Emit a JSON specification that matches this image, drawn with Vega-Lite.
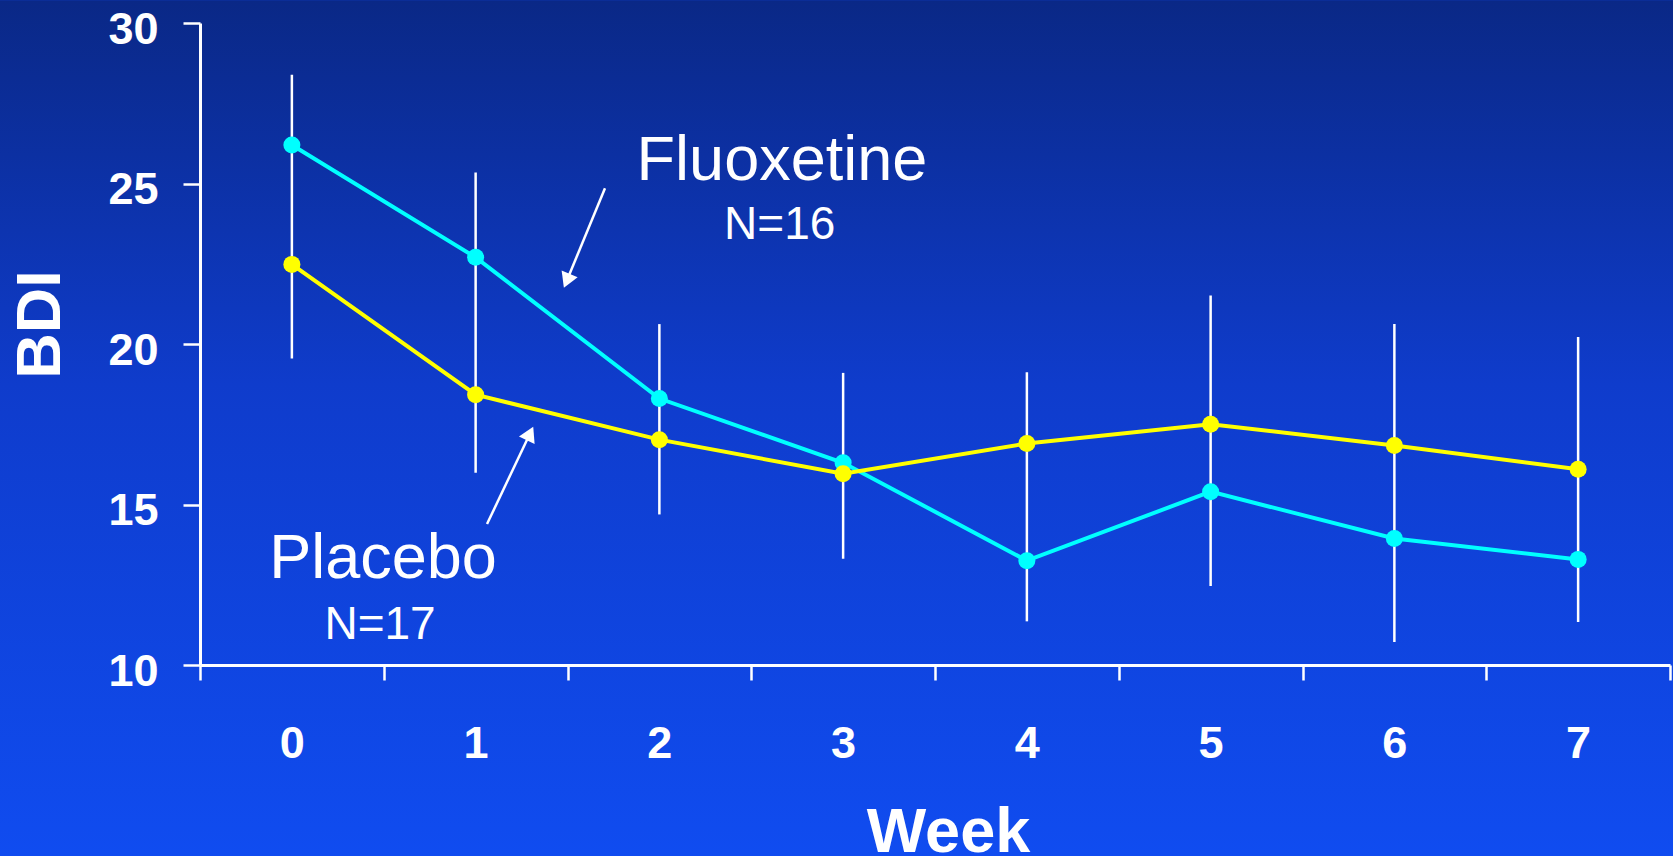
{
  "$schema": "https://vega.github.io/schema/vega-lite/v6.json",
  "width": 1470,
  "height": 642,
  "autosize": "none",
  "padding": {"left": 200, "top": 23, "right": 3, "bottom": 191},
  "background": "#0e3cc8",
  "config": {"view": {"stroke": null}, "font": "Liberation Sans"},
  "datasets": {
    "means": [
      {"week": 0, "group": "Fluoxetine", "bdi": 26.2},
      {"week": 1, "group": "Fluoxetine", "bdi": 22.7},
      {"week": 2, "group": "Fluoxetine", "bdi": 18.3},
      {"week": 3, "group": "Fluoxetine", "bdi": 16.3},
      {"week": 4, "group": "Fluoxetine", "bdi": 13.25},
      {"week": 5, "group": "Fluoxetine", "bdi": 15.4},
      {"week": 6, "group": "Fluoxetine", "bdi": 13.94},
      {"week": 7, "group": "Fluoxetine", "bdi": 13.29},
      {"week": 0, "group": "Placebo", "bdi": 22.48},
      {"week": 1, "group": "Placebo", "bdi": 18.42},
      {"week": 2, "group": "Placebo", "bdi": 17.02},
      {"week": 3, "group": "Placebo", "bdi": 15.96},
      {"week": 4, "group": "Placebo", "bdi": 16.9},
      {"week": 5, "group": "Placebo", "bdi": 17.5},
      {"week": 6, "group": "Placebo", "bdi": 16.84},
      {"week": 7, "group": "Placebo", "bdi": 16.1}
    ],
    "errors": [
      {"week": 0, "lo": 19.55, "hi": 28.39},
      {"week": 1, "lo": 15.99, "hi": 25.34},
      {"week": 2, "lo": 14.69, "hi": 20.62},
      {"week": 3, "lo": 13.31, "hi": 19.1},
      {"week": 4, "lo": 11.36, "hi": 19.12},
      {"week": 5, "lo": 12.46, "hi": 21.51},
      {"week": 6, "lo": 10.72, "hi": 20.62},
      {"week": 7, "lo": 11.34, "hi": 20.22}
    ],
    "labels": [
      {"text": "Fluoxetine", "kind": "name", "week": 2.667, "bdi": 25.1},
      {"text": "N=16", "kind": "n", "week": 2.655, "bdi": 23.26},
      {"text": "Placebo", "kind": "name", "week": 0.496, "bdi": 12.71},
      {"text": "N=17", "kind": "n", "week": 0.48, "bdi": 10.81}
    ],
    "arrows": [
      {"arrow": "Fluoxetine", "week0": 1.704, "bdi0": 24.85, "week1": 1.496, "bdi1": 21.97, "angle": 202.5},
      {"arrow": "Placebo", "week0": 1.062, "bdi0": 14.39, "week1": 1.296, "bdi1": 17.21, "angle": 25.4}
    ]
  },
  "resolve": {"axis": {"x": "independent", "y": "independent"}},
  "layer": [
    {
      "data": {"values": [{}]},
      "mark": {
        "type": "rect",
        "fill": {
          "gradient": "linear",
          "x1": 0, "y1": 0, "x2": 0, "y2": 1,
          "stops": [
            {"offset": 0, "color": "#0a2886"},
            {"offset": 0.45, "color": "#0f3ccc"},
            {"offset": 1, "color": "#104cf0"}
          ]
        }
      },
      "encoding": {
        "x": {"datum": -1.6, "type": "quantitative", "scale": {"domain": [-0.5, 7.5], "nice": false, "zero": false}, "axis": null},
        "x2": {"datum": 7.53},
        "y": {"datum": 30.71, "type": "quantitative", "scale": {"domain": [10, 30], "nice": false, "zero": false}, "axis": null},
        "y2": {"datum": 4.05}
      }
    },
    {
      "data": {"name": "errors"},
      "mark": {"type": "rule", "color": "white", "strokeWidth": 2.5},
      "encoding": {
        "x": {
          "field": "week", "type": "quantitative",
          "scale": {"domain": [-0.5, 7.5], "nice": false, "zero": false},
          "axis": {
            "orient": "bottom", "values": [-0.5, 0.5, 1.5, 2.5, 3.5, 4.5, 5.5, 6.5, 7.5],
            "labels": false, "title": null, "grid": false,
            "domainColor": "white", "domainWidth": 3,
            "tickColor": "white", "tickWidth": 2.5, "tickSize": 15, "zindex": 1
          }
        },
        "y": {
          "field": "lo", "type": "quantitative",
          "scale": {"domain": [10, 30], "nice": false, "zero": false},
          "axis": {
            "orient": "left", "values": [10, 15, 20, 25, 30], "grid": false,
            "domainColor": "white", "domainWidth": 3,
            "tickColor": "white", "tickWidth": 2.5, "tickSize": 17,
            "labelFontSize": 45, "labelFontWeight": "bold", "labelColor": "white", "labelPadding": 25,
            "labelOffset": 6,
            "title": "BDI", "titleFontSize": 63, "titleFontWeight": "bold", "titleColor": "white",
            "titlePadding": 35, "titleY": 301, "zindex": 1
          }
        },
        "y2": {"field": "hi"}
      }
    },
    {
      "data": {"name": "means"},
      "mark": {"type": "line", "strokeWidth": 4},
      "encoding": {
        "x": {
          "field": "week", "type": "quantitative",
          "scale": {"domain": [-0.5, 7.5], "nice": false, "zero": false},
          "axis": {
            "orient": "bottom", "values": [0, 1, 2, 3, 4, 5, 6, 7], "format": "d",
            "ticks": false, "domain": false, "grid": false,
            "labelFontSize": 45, "labelFontWeight": "bold", "labelColor": "white", "labelPadding": 56,
            "title": "Week", "titleFontSize": 63, "titleFontWeight": "bold", "titleColor": "white",
            "titlePadding": 35, "titleX": 748, "zindex": 1
          }
        },
        "y": {"field": "bdi", "type": "quantitative", "scale": {"domain": [10, 30], "nice": false, "zero": false}, "axis": null},
        "color": {
          "field": "group", "type": "nominal", "legend": null,
          "scale": {"domain": ["Fluoxetine", "Placebo"], "range": ["#00ffff", "#ffff00"]}
        }
      }
    },
    {
      "data": {"name": "means"},
      "mark": {"type": "point", "filled": true, "shape": "circle", "size": 290, "opacity": 1},
      "encoding": {
        "x": {"field": "week", "type": "quantitative", "scale": {"domain": [-0.5, 7.5], "nice": false, "zero": false}, "axis": null},
        "y": {"field": "bdi", "type": "quantitative", "scale": {"domain": [10, 30], "nice": false, "zero": false}, "axis": null},
        "color": {"field": "group", "type": "nominal", "legend": null}
      }
    },
    {
      "data": {"name": "arrows"},
      "mark": {"type": "rule", "color": "white", "strokeWidth": 2.5},
      "encoding": {
        "x": {"field": "week0", "type": "quantitative", "scale": {"domain": [-0.5, 7.5], "nice": false, "zero": false}, "axis": null},
        "y": {"field": "bdi0", "type": "quantitative", "scale": {"domain": [10, 30], "nice": false, "zero": false}, "axis": null},
        "x2": {"field": "week1"},
        "y2": {"field": "bdi1"}
      }
    },
    {
      "data": {"name": "arrows"},
      "mark": {"type": "point", "shape": "triangle-up", "filled": true, "color": "white", "size": 300, "opacity": 1},
      "encoding": {
        "x": {"field": "week1", "type": "quantitative", "scale": {"domain": [-0.5, 7.5], "nice": false, "zero": false}, "axis": null},
        "y": {"field": "bdi1", "type": "quantitative", "scale": {"domain": [10, 30], "nice": false, "zero": false}, "axis": null},
        "angle": {"field": "angle", "type": "quantitative", "scale": null}
      }
    },
    {
      "data": {"name": "labels"},
      "mark": {"type": "text", "color": "white", "align": "center", "baseline": "alphabetic", "font": "Liberation Sans"},
      "encoding": {
        "x": {"field": "week", "type": "quantitative", "scale": {"domain": [-0.5, 7.5], "nice": false, "zero": false}, "axis": null},
        "y": {"field": "bdi", "type": "quantitative", "scale": {"domain": [10, 30], "nice": false, "zero": false}, "axis": null},
        "text": {"field": "text"},
        "size": {"field": "kind", "type": "nominal", "legend": null, "scale": {"domain": ["name", "n"], "range": [63, 46]}}
      }
    }
  ]
}
